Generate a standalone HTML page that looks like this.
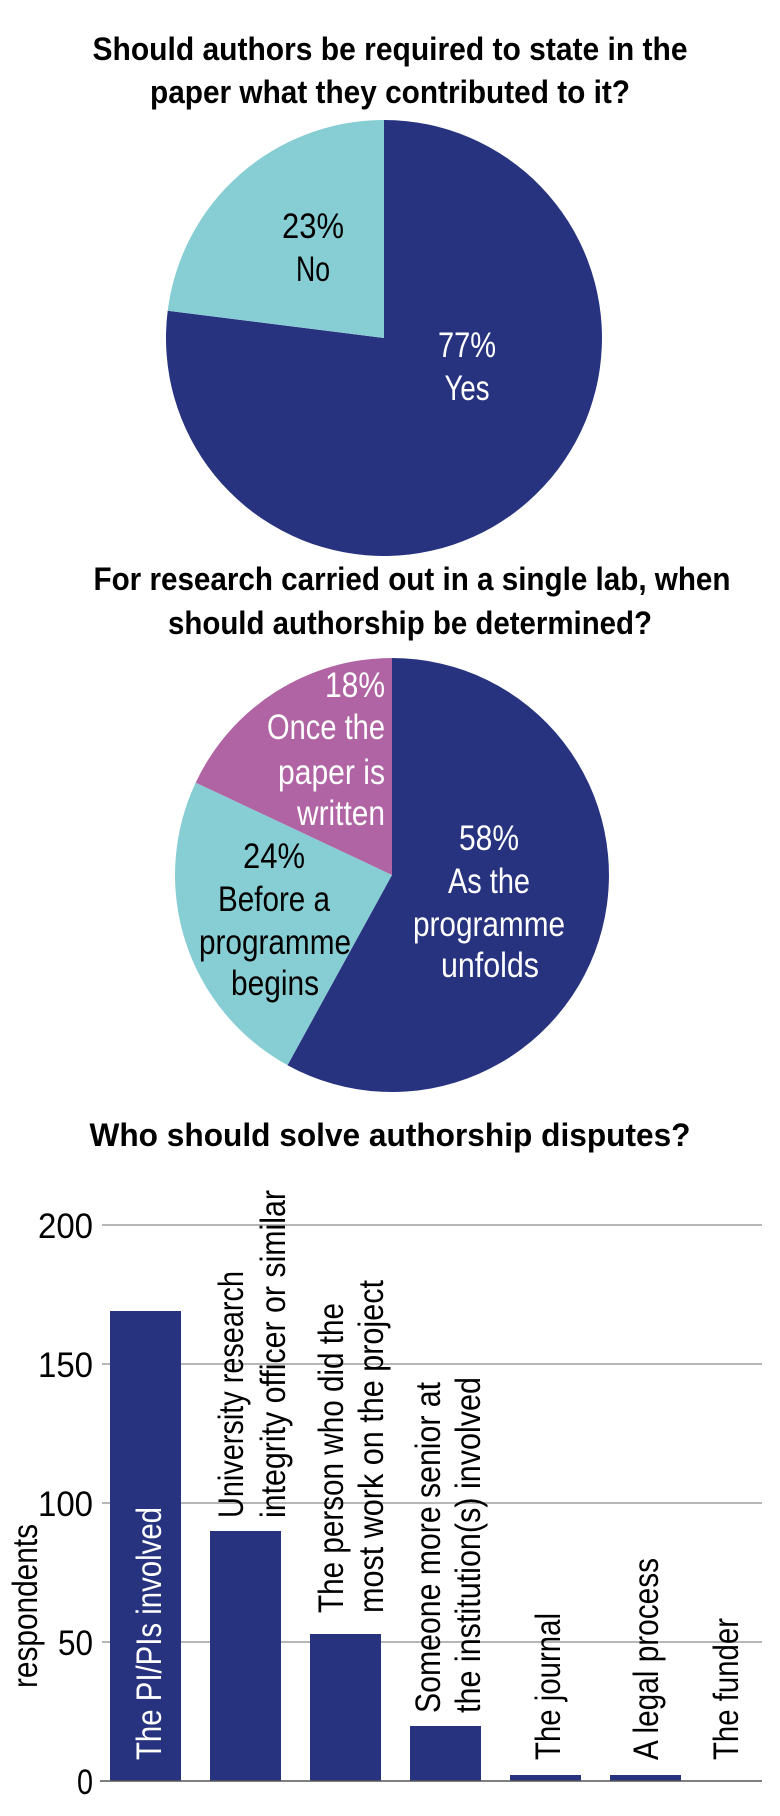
<!DOCTYPE html>
<html><head><meta charset="utf-8"><style>
html,body{margin:0;padding:0;background:#fff;}
svg{display:block;}
.t{font-family:"Liberation Sans Narrow","Liberation Sans",sans-serif;font-weight:bold;font-size:32px;fill:#000;}
.l{font-family:"Liberation Sans Narrow","Liberation Sans",sans-serif;font-size:35px;}
</style></head><body>
<svg width="780" height="1816" viewBox="0 0 780 1816" xmlns="http://www.w3.org/2000/svg">
<rect width="780" height="1816" fill="#fff"/>
<text class="t" x="390" y="60" text-anchor="middle" textLength="595" lengthAdjust="spacingAndGlyphs">Should authors be required to state in the</text>
<text class="t" x="390" y="103" text-anchor="middle" textLength="480" lengthAdjust="spacingAndGlyphs">paper what they contributed to it?</text>
<path d="M384,338 L384,120 A218,218 0 1 1 167.7,310.7 Z" fill="#283380"/>
<path d="M384,338 L384,120 A218,218 0 0 0 167.7,310.7 Z" fill="#87cdd4"/>
<g class="l" text-anchor="middle" lengthAdjust="spacingAndGlyphs">
<text x="313" y="238" fill="#000" textLength="62" lengthAdjust="spacingAndGlyphs">23%</text>
<text x="313" y="281" fill="#000" textLength="34" lengthAdjust="spacingAndGlyphs">No</text>
<text x="467" y="357" fill="#fff" textLength="58" lengthAdjust="spacingAndGlyphs">77%</text>
<text x="467" y="400" fill="#fff" textLength="45" lengthAdjust="spacingAndGlyphs">Yes</text>
</g>
<text class="t" x="412" y="590" text-anchor="middle" textLength="637" lengthAdjust="spacingAndGlyphs">For research carried out in a single lab, when</text>
<text class="t" x="410" y="634" text-anchor="middle" textLength="484" lengthAdjust="spacingAndGlyphs">should authorship be determined?</text>
<path d="M392,875 L392,658 A217,217 0 1 1 287.5,1065.2 Z" fill="#283380"/>
<path d="M392,875 L195.7,782.6 A217,217 0 0 0 287.5,1065.2 Z" fill="#87cdd4"/>
<path d="M392,875 L392,658 A217,217 0 0 0 195.7,782.6 Z" fill="#b064a4"/>
<g class="l" fill="#fff" text-anchor="end">
<text x="385" y="697" textLength="60" lengthAdjust="spacingAndGlyphs">18%</text>
<text x="385" y="739" textLength="118" lengthAdjust="spacingAndGlyphs">Once the</text>
<text x="385" y="784" textLength="107" lengthAdjust="spacingAndGlyphs">paper is</text>
<text x="385" y="825" textLength="88" lengthAdjust="spacingAndGlyphs">written</text>
</g>
<g class="l" fill="#000" text-anchor="middle">
<text x="274" y="868" textLength="62" lengthAdjust="spacingAndGlyphs">24%</text>
<text x="274" y="911" textLength="112" lengthAdjust="spacingAndGlyphs">Before a</text>
<text x="275" y="954" textLength="152" lengthAdjust="spacingAndGlyphs">programme</text>
<text x="275" y="995" textLength="88" lengthAdjust="spacingAndGlyphs">begins</text>
</g>
<g class="l" fill="#fff" text-anchor="middle">
<text x="489" y="850" textLength="60" lengthAdjust="spacingAndGlyphs">58%</text>
<text x="489" y="893" textLength="82" lengthAdjust="spacingAndGlyphs">As the</text>
<text x="489" y="936" textLength="152" lengthAdjust="spacingAndGlyphs">programme</text>
<text x="490" y="977" textLength="98" lengthAdjust="spacingAndGlyphs">unfolds</text>
</g>
<text class="t" x="390" y="1146" text-anchor="middle" textLength="601" lengthAdjust="spacingAndGlyphs">Who should solve authorship disputes?</text>
<g stroke="#8a8a8a" stroke-width="1.3">
<line x1="102" y1="1225" x2="762" y2="1225"/>
<line x1="102" y1="1364" x2="762" y2="1364"/>
<line x1="102" y1="1503" x2="762" y2="1503"/>
<line x1="102" y1="1642" x2="762" y2="1642"/>
</g>
<g fill="#283380">
<rect x="110" y="1311" width="71" height="470"/>
<rect x="210" y="1531" width="71" height="250"/>
<rect x="310" y="1634" width="71" height="147"/>
<rect x="410" y="1726" width="71" height="55"/>
<rect x="510" y="1775" width="71" height="6"/>
<rect x="610" y="1775" width="71" height="6"/>
</g>
<line x1="100" y1="1781" x2="762" y2="1781" stroke="#555" stroke-width="1.5"/>
<g class="l" fill="#000" text-anchor="end">
<text x="93" y="1238" textLength="55" lengthAdjust="spacingAndGlyphs">200</text>
<text x="93" y="1377" textLength="55" lengthAdjust="spacingAndGlyphs">150</text>
<text x="93" y="1516" textLength="55" lengthAdjust="spacingAndGlyphs">100</text>
<text x="93" y="1655" textLength="35" lengthAdjust="spacingAndGlyphs">50</text>
<text x="93" y="1794" textLength="16" lengthAdjust="spacingAndGlyphs">0</text>
</g>
<text class="l" fill="#000" text-anchor="middle" transform="translate(37,1606) rotate(-90)" textLength="164" lengthAdjust="spacingAndGlyphs">respondents</text>
<g class="l">
<text fill="#fff" transform="translate(161,1760) rotate(-90)" textLength="253" lengthAdjust="spacingAndGlyphs">The PI/PIs involved</text>
<text fill="#000" transform="translate(243,1518) rotate(-90)" textLength="247" lengthAdjust="spacingAndGlyphs">University research</text>
<text fill="#000" transform="translate(285,1518) rotate(-90)" textLength="328" lengthAdjust="spacingAndGlyphs">integrity officer or similar</text>
<text fill="#000" transform="translate(343,1613) rotate(-90)" textLength="310" lengthAdjust="spacingAndGlyphs">The person who did the</text>
<text fill="#000" transform="translate(383,1613) rotate(-90)" textLength="333" lengthAdjust="spacingAndGlyphs">most work on the project</text>
<text fill="#000" transform="translate(440,1713) rotate(-90)" textLength="331" lengthAdjust="spacingAndGlyphs">Someone more senior at</text>
<text fill="#000" transform="translate(480,1713) rotate(-90)" textLength="336" lengthAdjust="spacingAndGlyphs">the institution(s) involved</text>
<text fill="#000" transform="translate(560,1760) rotate(-90)" textLength="147" lengthAdjust="spacingAndGlyphs">The journal</text>
<text fill="#000" transform="translate(658,1760) rotate(-90)" textLength="202" lengthAdjust="spacingAndGlyphs">A legal process</text>
<text fill="#000" transform="translate(738,1760) rotate(-90)" textLength="142" lengthAdjust="spacingAndGlyphs">The funder</text>
</g>
</svg>
</body></html>
